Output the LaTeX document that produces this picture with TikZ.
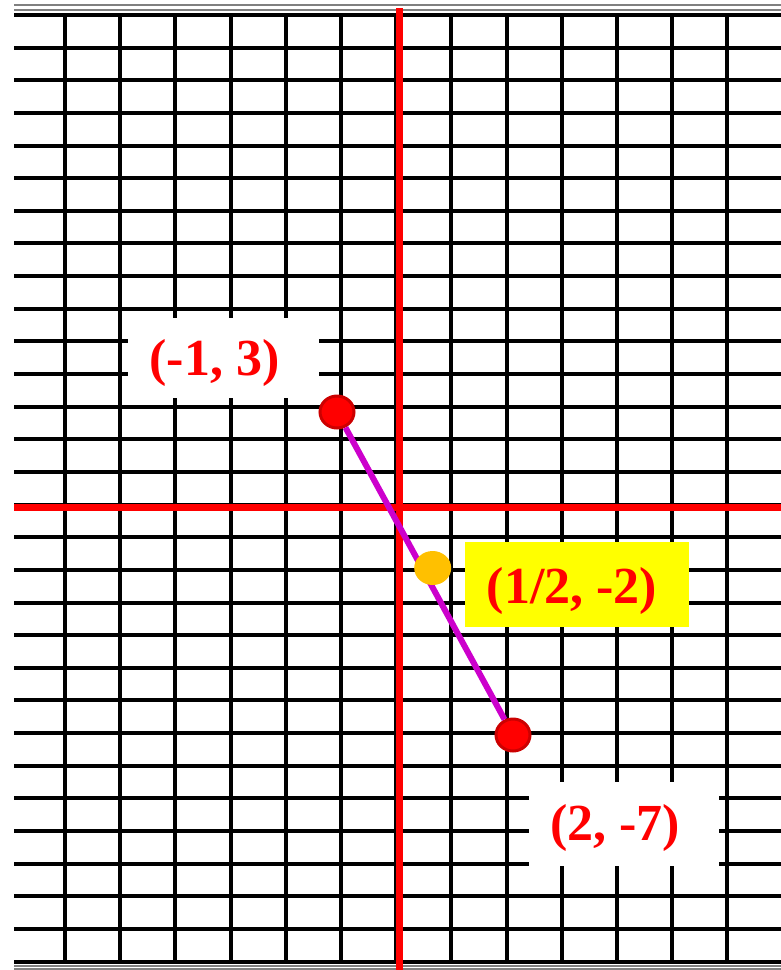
\documentclass[tikz,border=0pt]{standalone}
\usepackage{fontspec}
\setmainfont{Liberation Serif}
\usetikzlibrary{shapes.geometric}
\definecolor{dotRim}{RGB}{204,0,0}
\definecolor{segPurple}{RGB}{204,0,204}
\definecolor{midOrange}{RGB}{255,192,0}
\definecolor{boxYellow}{RGB}{255,255,0}
% text inside a label box, moved left by #1 and down by #2
\newcommand{\offtext}[3]{\hspace*{-#1}\raisebox{-#2}[\height][\depth]{#3}}

\begin{document}
\begin{tikzpicture}[
  x=1pt,y=-1pt,
  gridline/.style={line width=4pt,black},
  axis/.style={line width=7pt,red},
  rim/.style={line width=1.2pt,gray},
  dot/.style={
    ellipse,
    fill=red,
    draw=dotRim,
    line width=3pt,
    minimum width=34pt,
    minimum height=32pt,
    inner sep=0pt
  },
  middot/.style={ellipse,fill=midOrange,minimum width=37pt,minimum height=34pt,inner sep=0pt},
  coordlabel/.style={
    fill=white,
    text=red,
    font=\fontsize{52}{56}\selectfont\bfseries,
    inner sep=0pt
  },
  segment/.style={line width=6pt,segPurple}
]
  \useasboundingbox (0,0) rectangle (781,970);
  % edges of the sheet
  \draw[rim] (14,5) -- (781,5) (14,10) -- (781,10);
  \draw[rim] (14,966) -- (781,966) (14,969) -- (781,969);
  % grid
  \foreach \r in {0,...,29}
    \draw[gridline] (14,{15+32.64*\r}) -- (781,{15+32.64*\r});
  \foreach \c in {0,...,12}
    \draw[gridline] ({65+55.2*\c},15) -- ({65+55.2*\c},961.7);
  % axes
  \draw[axis] (399,8) -- (399,970);
  \draw[axis] (14,507) -- (781,507);

  % labels
  \node[coordlabel,minimum width=191pt,minimum height=80pt] (lblA) at (223,358)
    {\offtext{17pt}{5pt}{(-1, 3)}};
  \node[coordlabel,fill=boxYellow,minimum width=224pt,minimum height=85pt] (lblM) at (577,584)
    {\offtext{10pt}{7pt}{(1/2, -2)}};
  \node[coordlabel,minimum width=190pt,minimum height=84pt] (lblB) at (624,824)
    {\offtext{18pt}{4pt}{(2, -7)}};

  % the segment and its midpoint
  \node[dot] (ptA) at (337,412) {};
  \node[dot] (ptB) at (513,735) {};
  \draw[segment] (ptA) -- (ptB);
  \node[middot] (ptM) at (432.7,568) {};
\end{tikzpicture}
\end{document}
